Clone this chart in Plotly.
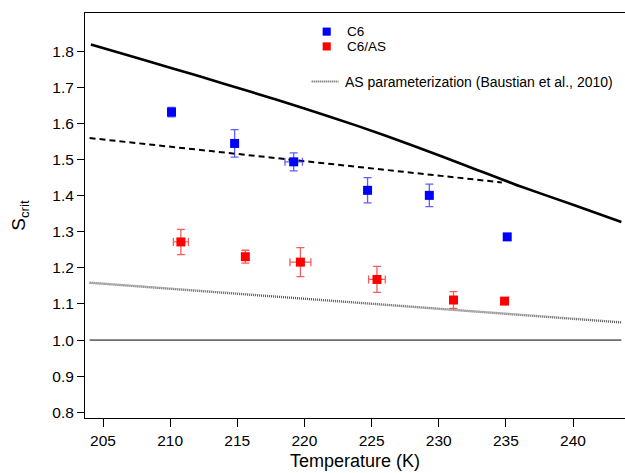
import plotly.graph_objects as go

# C6 particles (blue)
c6_T = [210.1, 214.8, 219.2, 224.7, 229.3, 235.1]
c6_S = [1.632, 1.545, 1.494, 1.415, 1.401, 1.286]
c6_Serr = [0.013, 0.038, 0.025, 0.035, 0.031, 0.0]
c6_Terr = [0.0, 0.0, 0.65, 0.0, 0.0, 0.0]

# C6 coated with ammonium sulfate (red)
c6as_T = [210.8, 215.6, 219.7, 225.4, 231.1, 234.9]
c6as_S = [1.272, 1.231, 1.216, 1.168, 1.111, 1.108]
c6as_Serr = [0.035, 0.018, 0.040, 0.036, 0.023, 0.0]
c6as_Terr = [0.56, 0.0, 0.78, 0.62, 0.0, 0.0]

# Reference curves
homog_T = [204.1, 208.0, 212.0, 216.0, 220.0, 224.0, 228.0, 232.0, 236.0, 240.0, 243.6]
homog_S = [1.819, 1.777, 1.733, 1.688, 1.642, 1.593, 1.540, 1.484, 1.427, 1.375, 1.327]
dashed_T = [204.0, 234.7]
dashed_S = [1.560, 1.437]
as_param_T = [204.0, 243.6]
as_param_S = [1.159, 1.049]
sat_T = [204.0, 243.6]
sat_S = [1.0, 1.0]

x_ticks = [205, 210, 215, 220, 225, 230, 235, 240]
y_ticks = [0.8, 0.9, 1.0, 1.1, 1.2, 1.3, 1.4, 1.5, 1.6, 1.7, 1.8]

FONT = "Liberation Sans, Arial, sans-serif"

fig = go.Figure()

fig.add_trace(go.Scatter(x=sat_T, y=sat_S, mode="lines",
                         line=dict(color="black", width=1), showlegend=False))
fig.add_trace(go.Scatter(x=homog_T, y=homog_S, mode="lines",
                         line=dict(color="black", width=2.6, shape="spline", smoothing=0.6),
                         showlegend=False))
fig.add_trace(go.Scatter(x=dashed_T, y=dashed_S, mode="lines",
                         line=dict(color="black", width=2, dash="6px,4px"), showlegend=False))
fig.add_trace(go.Scatter(x=as_param_T, y=as_param_S, mode="lines",
                         line=dict(color="#555555", width=2.4, dash="1px,1px"), showlegend=False))

def err(vals, color):
    return dict(type="data", array=vals, visible=True, color=color, thickness=1.3, width=4)

fig.add_trace(go.Scatter(x=c6_T, y=c6_S, mode="markers",
                         marker=dict(symbol="square", size=9, color="#0000ff"),
                         error_y=err(c6_Serr, "rgba(40,40,255,0.75)"),
                         error_x=err(c6_Terr, "rgba(40,40,255,0.75)"),
                         showlegend=False))
fig.add_trace(go.Scatter(x=c6as_T, y=c6as_S, mode="markers",
                         marker=dict(symbol="square", size=9, color="#ff0000"),
                         error_y=err(c6as_Serr, "rgba(235,40,40,0.75)"),
                         error_x=err(c6as_Terr, "rgba(235,40,40,0.75)"),
                         showlegend=False))

# Legend drawn by hand in paper coordinates
shapes = []
ann = []
leg_x = 0.4476
for yy, col, txt in [(0.9540, "#0000ff", "C6"), (0.9175, "#ff0000", "C6/AS")]:
    shapes.append(dict(type="rect", xref="paper", yref="paper",
                       x0=leg_x - 0.0075, x1=leg_x + 0.0075,
                       y0=yy - 0.010, y1=yy + 0.010,
                       fillcolor=col, line=dict(width=0)))
    ann.append(dict(x=0.4815, y=yy, xref="paper", yref="paper", text=txt,
                    showarrow=False, xanchor="left", yanchor="middle",
                    font=dict(family=FONT, size=13.5, color="black")))
shapes.append(dict(type="line", xref="paper", yref="paper",
                   x0=0.4198, x1=0.4691, y0=0.8308, y1=0.8308,
                   line=dict(color="#555555", width=2, dash="1px,1px")))
ann.append(dict(x=0.4772, y=0.8308, xref="paper", yref="paper",
                text="AS parameterization (Baustian et al., 2010)",
                showarrow=False, xanchor="left", yanchor="middle",
                font=dict(family=FONT, size=14, color="black")))

fig.update_layout(
    width=625, height=473,
    margin=dict(l=85, r=0, t=13, b=55),
    plot_bgcolor="white", paper_bgcolor="white",
    font=dict(family=FONT, size=15.5, color="black"),
    shapes=shapes, annotations=ann,
    xaxis=dict(range=[203.66, 243.87], tickvals=x_ticks, ticks="outside", ticklen=8,
               tickcolor="black", showline=True, linecolor="black", linewidth=1,
               mirror=True, showgrid=False, zeroline=False,
               title=dict(text="Temperature (K)", font=dict(size=18), standoff=6)),
    yaxis=dict(range=[0.784, 1.9065], tickvals=y_ticks, tickformat=".1f",
               ticks="outside", ticklen=7, tickcolor="black",
               showline=True, linecolor="black", linewidth=1,
               showgrid=False, zeroline=False,
               title=dict(text="S<sub>crit</sub>", font=dict(size=19), standoff=21)),
)

fig.write_html("out.html")
